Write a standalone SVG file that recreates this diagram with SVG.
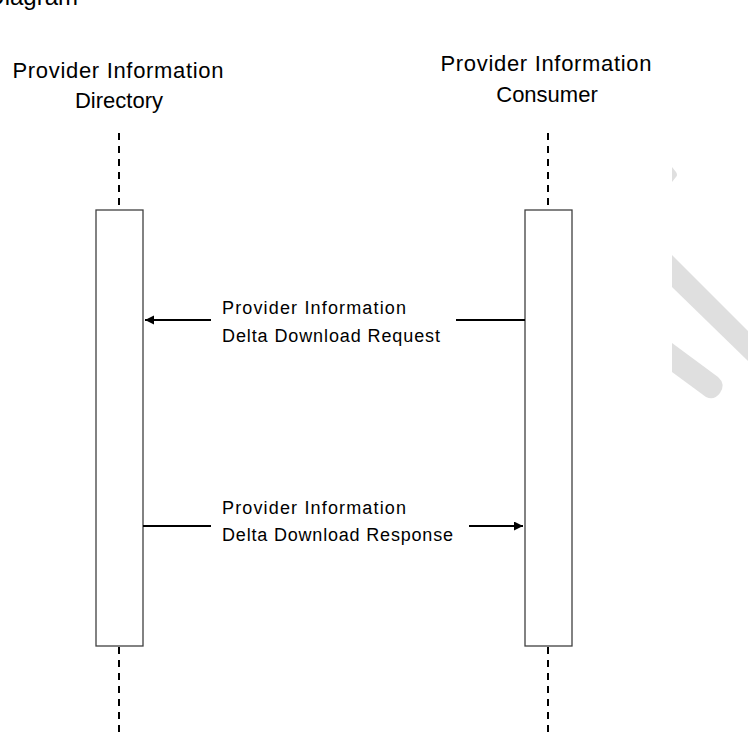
<svg xmlns="http://www.w3.org/2000/svg" width="748" height="734" viewBox="0 0 748 734">
<style>
.t{font-family:"Liberation Sans",Arial,sans-serif;fill:#000}
.h{font-size:22px}
.m{font-size:18px}
.life{stroke:#000;stroke-width:2;stroke-dasharray:7 6;fill:none}
.act{fill:#fff;stroke:#404040;stroke-width:1.3}
.msg{stroke:#000;stroke-width:2;fill:none}
.wm{fill:#dfdfdf}
</style>
<defs>
<marker id="ah" markerWidth="10" markerHeight="10" refX="9" refY="4.5" orient="auto" markerUnits="userSpaceOnUse">
<path d="M0,0 L9,4.5 L0,9 Z" fill="#000"/>
</marker>
</defs>
<rect width="748" height="734" fill="#fff"/>
<g id="watermark">
<path class="wm" d="M672,167 L676,172 Q678,175 676,177 L672,182 Z"/>
<path class="wm" d="M672,255 L748,331 L748,361 L672,287 Z"/>
<path class="wm" d="M672,343 L718,377 Q726,384 720,393 Q714,401 706,397 L672,372 Z"/>
</g>
<text class="t" x="78" y="5" font-size="24" text-anchor="end">Diagram</text>
<g id="directory">
<text class="t h" x="118" y="78" text-anchor="middle" textLength="211">Provider Information</text>
<text class="t h" x="119" y="108" text-anchor="middle">Directory</text>
<line class="life" x1="119" y1="133" x2="119" y2="210"/>
<rect class="act" x="96" y="210" width="47" height="436"/>
<line class="life" x1="119" y1="647" x2="119" y2="734"/>
</g>
<g id="consumer">
<text class="t h" x="546" y="71" text-anchor="middle" textLength="211">Provider Information</text>
<text class="t h" x="547" y="102" text-anchor="middle">Consumer</text>
<line class="life" x1="548" y1="133" x2="548" y2="210"/>
<rect class="act" x="525" y="210" width="47" height="436"/>
<line class="life" x1="548" y1="647" x2="548" y2="734"/>
</g>
<g id="connectors">
<line class="msg" x1="525" y1="320" x2="456" y2="320"/>
<line class="msg" x1="211" y1="320" x2="145" y2="320" marker-end="url(#ah)"/>
<line class="msg" x1="143" y1="526" x2="211" y2="526"/>
<line class="msg" x1="469" y1="526" x2="523" y2="526" marker-end="url(#ah)"/>
</g>
<g id="labels">
<text class="t m" x="222" y="314" textLength="184">Provider Information</text>
<text class="t m" x="222" y="342" textLength="218">Delta Download Request</text>
<text class="t m" x="222" y="514" textLength="184">Provider Information</text>
<text class="t m" x="222" y="541" textLength="231">Delta Download Response</text>
</g>
</svg>
